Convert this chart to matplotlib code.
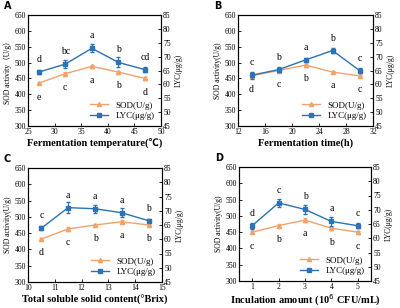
import matplotlib
matplotlib.use('Agg')
import matplotlib.pyplot as plt
from matplotlib.lines import Line2D

plt.rcParams['font.family'] = ['Liberation Serif', 'Noto Sans CJK SC', 'DejaVu Serif']

# panel A: fermentation temperature
temp_x = [27, 32, 37, 42, 47]
temp_sod = [435, 465, 488, 470, 450]
temp_sod_err = [4, 5, 5, 5, 4]
temp_lyc = [64.4, 67.3, 73.0, 67.9, 65.3]
temp_lyc_err = [0.8, 1.5, 1.5, 1.8, 0.9]
temp_sod_lbl = ['e', 'c', 'a', 'b', 'd']
temp_lyc_lbl = ['d', 'bc', 'a', 'b', 'cd']

# panel B: fermentation time
time_x = [14, 18, 22, 26, 30]
time_sod = [458, 475, 492, 470, 458]
time_sod_err = [4, 4, 5, 4, 4]
time_lyc = [63.3, 65.3, 68.8, 72.2, 65.0]
time_lyc_err = [1.2, 0.8, 0.6, 0.8, 1.0]
time_sod_lbl = ['d', 'c', 'b', 'a', 'c']
time_lyc_lbl = ['c', 'b', 'a', 'b', 'c']

# panel C: total soluble solid content
brix_x = [10.5, 11.5, 12.5, 13.5, 14.5]
brix_sod = [432, 463, 475, 485, 475]
brix_sod_err = [4, 5, 4, 4, 4]
brix_lyc = [63.9, 71.1, 70.7, 69.3, 66.5]
brix_lyc_err = [0.8, 1.8, 1.4, 1.5, 0.6]
brix_sod_lbl = ['d', 'c', 'b', 'a', 'b']
brix_lyc_lbl = ['c', 'a', 'a', 'a', 'b']

# panel D: inoculation amount
inoc_x = [1, 2, 3, 4, 5]
inoc_sod = [450, 470, 487, 462, 450]
inoc_sod_err = [4, 4, 5, 4, 4]
inoc_lyc = [64.4, 72.4, 70.1, 65.9, 64.4]
inoc_lyc_err = [1.0, 1.5, 1.5, 1.5, 0.8]
inoc_sod_lbl = ['c', 'b', 'a', 'b', 'c']
inoc_lyc_lbl = ['d', 'c', 'b', 'a', 'c']

SOD_C = '#f2a36b'
LYC_C = '#2c72b5'
W, H = 400, 308


def panel(fig, box, tag, x, sod, sod_err, lyc, lyc_err, sod_lbl, lyc_lbl,
          xlim, xticks, xlabel, ylabel, label_y):
    x0, y0, x1, y1 = box
    ax = fig.add_axes([x0 / W, 1 - y1 / H, (x1 - x0) / W, (y1 - y0) / H])
    ax2 = ax.twinx()
    ax.errorbar(x, sod, yerr=sod_err, color=SOD_C, marker='^', ms=3, lw=1,
                capsize=1.5, elinewidth=0.8)
    ax2.errorbar(x, lyc, yerr=lyc_err, color=LYC_C, marker='s', ms=2.5, lw=1,
                 capsize=1.5, elinewidth=0.8)
    ax.set_xlim(*xlim)
    ax.set_xticks(xticks)
    ax.set_ylim(300, 650)
    ax.set_yticks(range(300, 651, 50))
    ax2.set_ylim(45, 85)
    ax2.set_yticks(range(45, 86, 5))
    for a in (ax, ax2):
        a.tick_params(labelsize=5.5, length=2, width=0.6, pad=1.5, direction='in')
        for s in a.spines.values():
            s.set_linewidth(0.8)
    ax.set_xlabel(xlabel, fontsize=7.5, fontweight='bold', va='center')
    ax.xaxis.set_label_coords(0.5, (y1 - label_y) / (y1 - y0))
    ax.set_ylabel(ylabel, fontsize=5.5, labelpad=2)
    ax2.set_ylabel('LYC(μg/g)', fontsize=5.5, labelpad=3)
    for xi, yi, lb in zip(x, sod, sod_lbl):
        ax.annotate(lb, (xi, yi), xytext=(0, -10), textcoords='offset points',
                    ha='center', va='center', fontsize=7)
    for xi, yi, lb in zip(x, lyc, lyc_lbl):
        ax2.annotate(lb, (xi, yi), xytext=(0, 9), textcoords='offset points',
                     ha='center', va='center', fontsize=7)
    handles = [Line2D([], [], color=SOD_C, marker='^', ms=3, lw=1),
               Line2D([], [], color=LYC_C, marker='s', ms=2.5, lw=1)]
    ax2.legend(handles, ['SOD(U/g)', 'LYC(μg/g)'], loc='lower right', fontsize=6.5,
               frameon=False, handlelength=2, borderaxespad=0.3, labelspacing=0.2)
    fig.text((x0 - 24) / W, 1 - (y0 - 9) / H, tag, fontsize=7, fontweight='bold',
             family='DejaVu Sans', va='center')


fig = plt.figure(figsize=(4, 3.08), dpi=100)
panel(fig, (28, 15, 161, 126), 'A', temp_x, temp_sod, temp_sod_err, temp_lyc,
      temp_lyc_err, temp_sod_lbl, temp_lyc_lbl, (25, 50), range(25, 51, 5),
      'Fermentation temperature(\u2103)', 'SOD activity\uff08U/g\uff09', 143)
panel(fig, (238, 15, 373, 126), 'B', time_x, time_sod, time_sod_err, time_lyc,
      time_lyc_err, time_sod_lbl, time_lyc_lbl, (12, 32), range(12, 33, 4),
      'Fermentation time(h)', 'SOD activity(U/g)', 143)
panel(fig, (28, 168, 162, 282), 'C', brix_x, brix_sod, brix_sod_err, brix_lyc,
      brix_lyc_err, brix_sod_lbl, brix_lyc_lbl, (10, 15), range(10, 16),
      'Total soluble solid content(\u00b0Brix)', 'SOD activity(U/g)', 300)
panel(fig, (239, 167, 371, 281), 'D', inoc_x, inoc_sod, inoc_sod_err, inoc_lyc,
      inoc_lyc_err, inoc_sod_lbl, inoc_lyc_lbl, (0.5, 5.5), range(1, 6),
      'Inculation amount (10$^6$ CFU/mL)', 'SOD activity(U/g)', 300)

fig.savefig('out.png', dpi=100)
